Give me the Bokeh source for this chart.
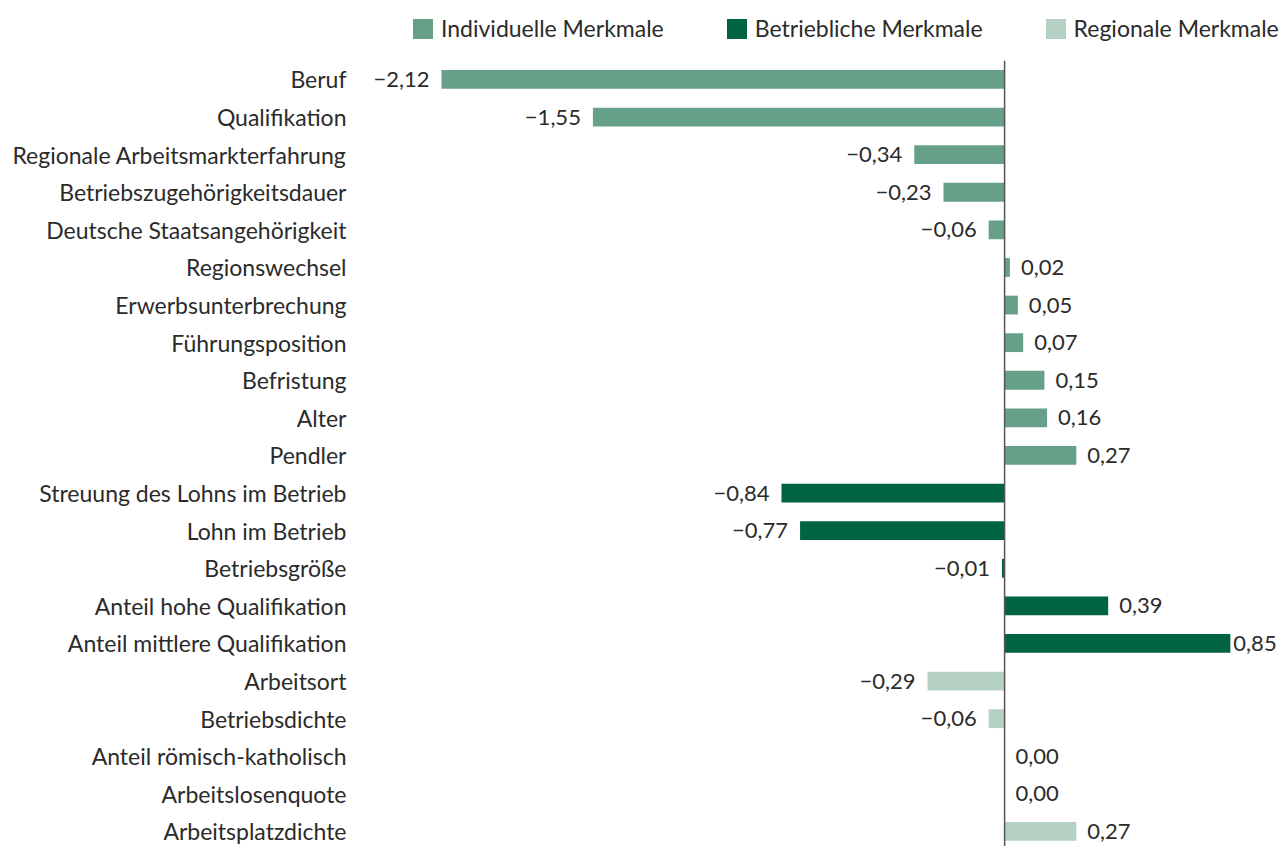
from bokeh.plotting import figure
from bokeh.models import Legend, LegendItem, ColumnDataSource, FixedTicker, Range1d
from bokeh.core.properties import value
from bokeh.embed import file_html
from bokeh.resources import INLINE

categories = ["Beruf", "Qualifikation", "Regionale Arbeitsmarkterfahrung",
              "Betriebszugehörigkeitsdauer", "Deutsche Staatsangehörigkeit",
              "Regionswechsel", "Erwerbsunterbrechung", "Führungsposition",
              "Befristung", "Alter", "Pendler",
              "Streuung des Lohns im Betrieb", "Lohn im Betrieb", "Betriebsgröße",
              "Anteil hohe Qualifikation", "Anteil mittlere Qualifikation",
              "Arbeitsort", "Betriebsdichte", "Anteil römisch-katholisch",
              "Arbeitslosenquote", "Arbeitsplatzdichte"]
values = [-2.12, -1.55, -0.34, -0.23, -0.06, 0.02, 0.05, 0.07, 0.15, 0.16, 0.27,
          -0.84, -0.77, -0.01, 0.39, 0.85,
          -0.29, -0.06, 0.00, 0.00, 0.27]
groups = (["Individuelle Merkmale"] * 11 + ["Betriebliche Merkmale"] * 5
          + ["Regionale Merkmale"] * 5)
group_names = ["Individuelle Merkmale", "Betriebliche Merkmale", "Regionale Merkmale"]
group_colors = ["#67a088", "#006444", "#b4d1c4"]

FONT = "Lato"
FS = "23px"
TXT = "#2b2b2b"

n = len(categories)
ypos = [n - 1 - i for i in range(n)]

p = figure(width=1279, height=846, output_backend="svg", toolbar_location=None,
           x_range=Range1d(-2.44, 1.035), y_range=Range1d(-0.4, n + 1.1))
p.min_border_left = 356
p.min_border_right = 0
p.min_border_top = 0
p.min_border_bottom = 0
p.outline_line_color = None
p.xgrid.visible = False
p.ygrid.visible = False
p.xaxis.visible = False
p.yaxis.ticker = FixedTicker(ticks=ypos)
p.yaxis.major_label_overrides = {y: c for y, c in zip(ypos, categories)}
p.yaxis.axis_line_color = None
p.yaxis.major_tick_line_color = None
p.yaxis.minor_tick_line_color = None
p.yaxis.major_label_standoff = 4
p.yaxis.major_label_text_font = FONT
p.yaxis.major_label_text_font_size = FS
p.yaxis.major_label_text_color = TXT

items = []
for g, c in zip(group_names, group_colors):
    idx = [i for i, gg in enumerate(groups) if gg == g]
    src = ColumnDataSource(dict(y=[ypos[i] for i in idx], right=[values[i] for i in idx]))
    r = p.hbar(y="y", left=0, right="right", height=0.5, source=src,
               fill_color=c, line_color=None)
    items.append(LegendItem(label=g, renderers=[r]))

# zero line, spanning the category band
p.segment(x0=[0], y0=[-0.5], x1=[0], y1=[n - 0.5], line_color="#555555", line_width=1.5)

vmax = max(values)
labels = [("\u2212" if v < 0 else "") + f"{abs(v):.2f}".replace(".", ",") for v in values]
offsets = [(-12 if v < 0 else (3 if v == vmax else 11)) for v in values]
aligns = ["right" if v < 0 else "left" for v in values]
lsrc = ColumnDataSource(dict(x=values, y=ypos, t=labels, o=offsets, a=aligns))
p.text(x="x", y="y", text="t", x_offset="o", text_align="a", text_baseline="middle",
       source=lsrc, text_font=value(FONT), text_font_size="22px", text_color=TXT)

legend = Legend(items=items, orientation="horizontal", location=(54, 804))
legend.border_line_color = None
legend.background_fill_alpha = 0
legend.padding = 0
legend.margin = 0
legend.spacing = 60
legend.glyph_width = 25
legend.glyph_height = 25
legend.label_standoff = 6
legend.label_text_font = FONT
legend.label_text_font_size = FS
legend.label_text_color = TXT
legend.label_height = 20
p.add_layout(legend)

open("out.html", "w").write(file_html(p, INLINE))
